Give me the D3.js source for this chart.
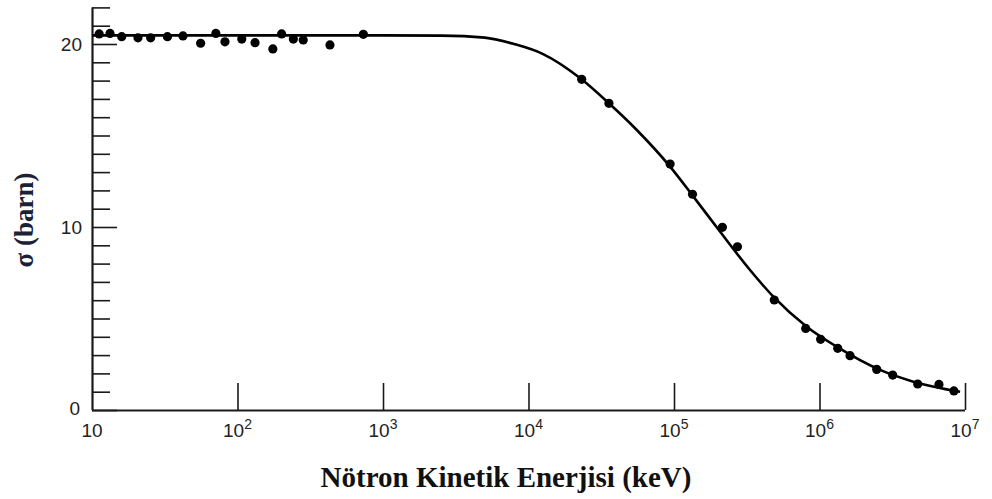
<!DOCTYPE html>
<html>
<head>
<meta charset="utf-8">
<script src="https://cdn.jsdelivr.net/npm/d3@7"></script>
<style>
  body { margin: 0; background: #fff; }
  svg { display: block; }
</style>
</head>
<body>
<svg id="chart" width="992" height="499"></svg>
<script>
// measured points: energy (keV), cross section (barn)
const pointE = [11.2, 13.3, 16, 20.7, 25.3, 33, 42.2, 55.8, 71, 82, 107, 132, 175, 201, 242, 283, 432, 733,
  23200, 35700, 94000, 134000, 215000, 273000, 489000, 804000, 1018000, 1334000, 1622000, 2472000, 3184000,
  4732000, 6622000, 8395000];
const pointS = [20.55, 20.58, 20.4, 20.34, 20.34, 20.4, 20.44, 20.04, 20.58, 20.12, 20.27, 20.07, 19.73, 20.55,
  20.27, 20.22, 19.95, 20.53,
  18.07, 16.76, 13.44, 11.79, 9.98, 8.92, 6.01, 4.46, 3.86, 3.37, 2.97, 2.22, 1.91, 1.42, 1.40, 1.04];

// fitted curve
const curveE = [10, 100, 1000, 2510, 5010, 7940, 12600, 22600, 35700, 55500, 94000, 136000, 207000,
  333000, 482000, 817000, 1312000, 2606000, 4416000, 9250000];
const curveS = [20.47, 20.47, 20.47, 20.46, 20.35, 20.0, 19.45, 18.14, 16.76, 15.30, 13.30, 11.66, 9.75,
  7.65, 6.19, 4.55, 3.46, 2.19, 1.55, 1.00];

const xTicks = [10, 1e2, 1e3, 1e4, 1e5, 1e6, 1e7];
const yMajor = [0, 10, 20];
const yTicks = d3.range(0, 23);

const svg = d3.select("#chart");
const ink = "#1a1a1a";

const x = d3.scaleLog().domain([10, 1e7]).range([92, 965]);
const y = d3.scaleLinear().domain([0, 22]).range([410, 7.4]);

// y axis with inward ticks
const yAxis = d3.axisRight(y)
  .tickValues(yTicks)
  .tickSize(18)
  .tickFormat("");
const gy = svg.append("g").attr("transform", `translate(${x.range()[0]},0)`).call(yAxis);
gy.select(".domain").attr("stroke", ink).attr("stroke-width", 2.2).attr("d", `M0.5,${y(0)}V${y(22)}`);
gy.selectAll(".tick line").attr("stroke", ink).attr("stroke-width", 1.6)
  .attr("x2", d => yMajor.includes(d) ? 25 : 18);

svg.append("g").selectAll("text").data(yMajor).join("text")
  .attr("x", d => d === 0 ? 80 : 82)
  .attr("y", d => y(d) + (d === 0 ? 5 : 7))
  .attr("text-anchor", "end")
  .attr("font-family", "'Liberation Sans', Arial, sans-serif")
  .attr("font-size", 19)
  .attr("fill", "#222")
  .text(d => d);

// x axis with upward ticks
const xAxis = d3.axisTop(x)
  .tickValues(xTicks)
  .tickSize(27)
  .tickFormat("");
const gx = svg.append("g").attr("transform", `translate(0,${y(0)})`).call(xAxis);
gx.select(".domain").attr("stroke", ink).attr("stroke-width", 2.2).attr("d", `M${x(10)},0.5H${x(1e7)}`);
gx.selectAll(".tick line").attr("stroke", ink).attr("stroke-width", 1.6)
  .attr("y2", d => d === 10 ? 0 : -27);

const xl = svg.append("g").selectAll("text").data(xTicks).join("text")
  .attr("x", d => x(d))
  .attr("y", 437)
  .attr("text-anchor", "middle")
  .attr("font-family", "'Liberation Sans', Arial, sans-serif")
  .attr("font-size", 19)
  .attr("fill", "#222");
xl.append("tspan").text("10");
xl.filter(d => d > 10).append("tspan")
  .attr("dy", -8)
  .attr("font-size", 14)
  .text(d => Math.round(Math.log10(d)));

// fitted curve
const line = d3.line()
  .x((d, i) => x(curveE[i]))
  .y((d, i) => y(curveS[i]))
  .curve(d3.curveMonotoneX);
svg.append("path")
  .attr("d", line(curveE))
  .attr("fill", "none")
  .attr("stroke", "#000")
  .attr("stroke-width", 2.6);

// data points
svg.append("g").selectAll("circle").data(pointE).join("circle")
  .attr("cx", d => x(d))
  .attr("cy", (d, i) => y(pointS[i]))
  .attr("r", 4.6)
  .attr("fill", "#000");

// axis titles
svg.append("text")
  .attr("transform", "translate(33,220) rotate(-90)")
  .attr("text-anchor", "middle")
  .attr("font-family", "'Liberation Serif', 'Times New Roman', serif")
  .attr("font-weight", "bold")
  .attr("font-size", 27)
  .attr("fill", "#1c2236")
  .text("σ (barn)");

svg.append("text")
  .attr("x", 506)
  .attr("y", 487)
  .attr("text-anchor", "middle")
  .attr("font-family", "'Liberation Serif', 'Times New Roman', serif")
  .attr("font-weight", "bold")
  .attr("font-size", 29)
  .attr("fill", "#111")
  .text("Nötron Kinetik Enerjisi (keV)");
</script>
</body>
</html>
